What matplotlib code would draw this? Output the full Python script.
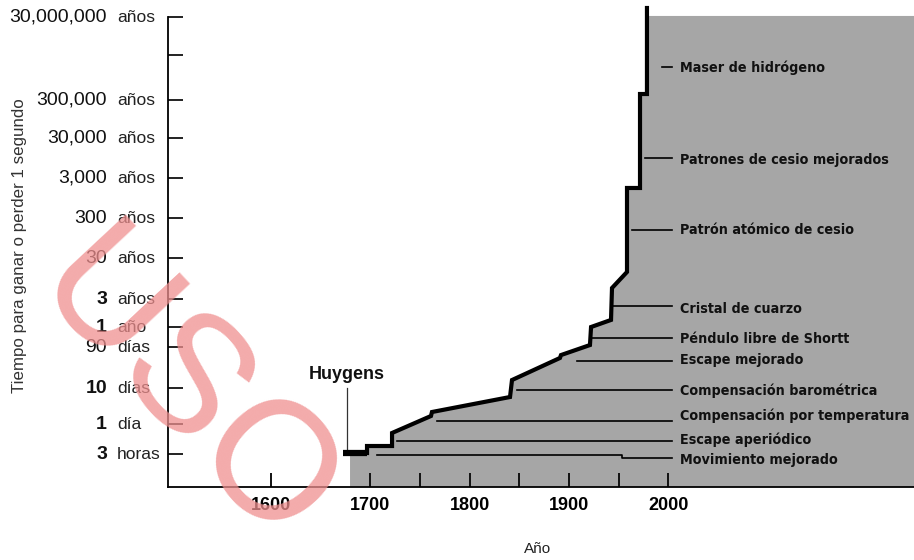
import numpy as np
import matplotlib
matplotlib.use("Agg")
import matplotlib.pyplot as plt
from matplotlib import font_manager
from matplotlib.transforms import ScaledTranslation

# ---------------- data ----------------
# time needed to gain or lose 1 second, in years
tick_values = [3.42e-4, 2.738e-3, 2.738e-2, 0.2464, 1.0, 3.0, 30.0, 300.0,
               3.0e3, 3.0e4, 3.0e5, 3.0e6, 3.0e7]
tick_numbers = ["3", "1", "10", "90", "1", "3", "30", "300", "3,000",
                "30,000", "300,000", "", "30,000,000"]
tick_units = ["horas", "día", "días", "días", "año", "años", "años", "años",
              "años", "años", "años", "", "años"]
bold_numbers = [True, True, True, False, True, True, False, False, False,
                False, False, False, False]

year_ticks = [1600, 1700, 1800, 1900, 2000]
year_minor = [1750, 1850, 1950]

# best clock accuracy through history (step outline)
clock_years = [1672.5, 1696.7, 1696.7, 1721.9, 1721.9, 1761.1, 1762.1,
               1840.7, 1842.7, 1891.0, 1892.0, 1921.2, 1922.3, 1942.4,
               1943.4, 1958.5, 1958.5, 1971.6, 1971.6, 1978.6, 1978.6]
clock_accuracy = [3.67e-4, 3.67e-4, 5.96e-4, 5.96e-4, 1.47e-3, 4.57e-3,
                  5.90e-3, 1.54e-2, 4.20e-2, 0.137, 0.160, 0.283, 1.0, 1.32,
                  5.57, 13.7, 1690.0, 1690.0, 4.08e5, 4.08e5, 5.18e7]

# improvements
ann_labels = ["Movimiento mejorado", "Escape aperiódico",
              "Compensación por temperatura", "Compensación barométrica",
              "Escape mejorado", "Péndulo libre de Shortt",
              "Cristal de cuarzo", "Patrón atómico de cesio",
              "Patrones de cesio mejorados", "Maser de hidrógeno"]
ann_start = [1706.7, 1726.9, 1767.2, 1847.7, 1908.2, 1923.3, 1944.4,
             1963.6, 1976.6, 1993.7]
ann_value = [3.19e-4, 8.42e-4, 3.32e-3, 0.0241, 0.1163, 0.4628, 2.28,
             150.3, 9487.0, 1.62e6]
ann_text_value = [2.25e-4, 9.0e-4, 4.6e-3, 0.0226, 0.123, 0.43, 2.0,
                  150.0, 8500.0, 1.54e6]
mov_bend_year = 1953.5
mov_end_value = 2.59e-4

huygens_year = 1676.5
huygens_text_value = 0.055
huygens_line = [4.2e-4, 0.0274]

# ---------------- layout ----------------
W, H = 914, 560
ylim = (3.42e-5, 5.18e7)
xlim = (1496.3, 2247.5)
fill_left_year = 1679.6
fill_top_value = 3.2e7
line_end_year = 2003.8
text_year = 2011.9

# hand-drawn vertical axis: tick positions (px from top) for the FuncScale
knot_log = [-5.0] + list(np.log10(tick_values)) + [9.0]
knot_px = [504.6, 454, 424, 388, 347, 327, 299, 258, 218, 178, 138, 100, 55, 17, -40.9]
knot_pos = [-p for p in knot_px]


def fwd(v):
    v = np.asarray(v, dtype=float)
    lv = np.log10(np.clip(v, 1e-12, None))
    return np.interp(lv, knot_log, knot_pos)


def inv(p):
    p = np.asarray(p, dtype=float)
    return 10.0 ** np.interp(p, knot_pos, knot_log)


names = {f.name for f in font_manager.fontManager.ttflist}
if "Liberation Sans Narrow" in names:
    NARROW = dict(family="Liberation Sans Narrow", size=11.5)
elif any(f.name == "DejaVu Sans" and f.stretch == "condensed"
         for f in font_manager.fontManager.ttflist):
    NARROW = dict(family="DejaVu Sans", stretch="condensed", size=10.3)
else:
    NARROW = dict(family="Liberation Sans", size=10.3)

plt.rcParams["font.family"] = ["Liberation Sans", "DejaVu Sans"]

fig = plt.figure(figsize=(W / 100, H / 100), dpi=100)
ax = fig.add_axes([168 / W, (H - 487) / H, (W - 168) / W, (487 - 8) / H])
ax.set_yscale("function", functions=(fwd, inv))
ax.set_xlim(*xlim)
ax.set_ylim(*ylim)

# gray area under the curve
fx = [fill_left_year, fill_left_year] + clock_years[1:] + [clock_years[-1], xlim[1], xlim[1]]
fy = [ylim[0], clock_accuracy[0]] + clock_accuracy[1:] + [fill_top_value, fill_top_value, ylim[0]]
ax.fill(fx, fy, color="#a6a6a6", lw=0, zorder=1)

# outline
ax.plot(clock_years[1:], clock_accuracy[1:], color="black", lw=3.0,
        solid_joinstyle="miter", zorder=4, clip_on=False)
ax.plot(clock_years[:2], clock_accuracy[:2], color="black", lw=4.5,
        solid_capstyle="butt", zorder=5)

# leader lines and labels
for i, (lab, x0, v, tv) in enumerate(zip(ann_labels, ann_start, ann_value, ann_text_value)):
    if i == 0:
        ax.plot([x0, mov_bend_year, mov_bend_year, line_end_year],
                [v, v, mov_end_value, mov_end_value], color="black", lw=1.2, zorder=3)
    else:
        ax.plot([x0, line_end_year], [v, v], color="black", lw=1.2, zorder=3)
    ax.text(text_year, tv, lab, ha="left", va="center",
            fontweight="bold", color="#111111", zorder=6, **NARROW)

# Huygens
ax.plot([huygens_year, huygens_year], huygens_line, color="#333333", lw=0.9, zorder=3)
ax.text(huygens_year, huygens_text_value, "Huygens", ha="center", va="center",
        fontsize=13, fontweight="bold", color="#111111", zorder=6)

# axes styling
for s in ["top", "right"]:
    ax.spines[s].set_visible(False)
ax.spines["left"].set_linewidth(1.3)
ax.spines["bottom"].set_linewidth(1.3)
ax.spines["left"].set_bounds(ylim[0], tick_values[-1])

ax.set_yticks(tick_values)
ax.set_yticklabels([""] * len(tick_values))
ax.yaxis.set_minor_locator(matplotlib.ticker.NullLocator())
ax.tick_params(axis="y", direction="in", length=11, width=1.4, color="#222222")

ax.set_xticks(year_ticks)
ax.set_xticks(year_minor, minor=True)
ax.set_xticklabels([str(y) for y in year_ticks], fontsize=13, fontweight="bold")
ax.tick_params(axis="x", which="both", direction="in", length=10, width=1.4,
               pad=7, color="#111111")

# y tick labels: number right-aligned, unit left-aligned
ytr = ax.get_yaxis_transform()
num_tr = ytr + ScaledTranslation(-0.61, 0, fig.dpi_scale_trans)
unit_tr = ytr + ScaledTranslation(-0.51, 0, fig.dpi_scale_trans)
for v, n, u, b in zip(tick_values, tick_numbers, tick_units, bold_numbers):
    if n:
        ax.text(0, v, n, transform=num_tr, ha="right", va="center", fontsize=14,
                fontweight="bold" if b else "normal", color="#111111", clip_on=False)
    if u:
        ax.text(0, v, u, transform=unit_tr, ha="left", va="center", fontsize=12.5,
                color="#222222", clip_on=False)

fig.text(20 / W, 1 - 246 / H, "Tiempo para ganar o perder 1 segundo", rotation=90,
         ha="center", va="center", fontsize=12.2, color="#333333")
fig.text(538 / W, 1 - 549 / H, "Año", ha="center", va="center", fontsize=11,
         color="#222222")

# watermark
fig.text(28 / W, 1 - 291.6 / H, "USO", rotation=-47, rotation_mode="anchor",
         ha="left", va="baseline", fontsize=120, color="#ef8f8f", alpha=0.75,
         zorder=20)

fig.savefig("out.png", dpi=100)
